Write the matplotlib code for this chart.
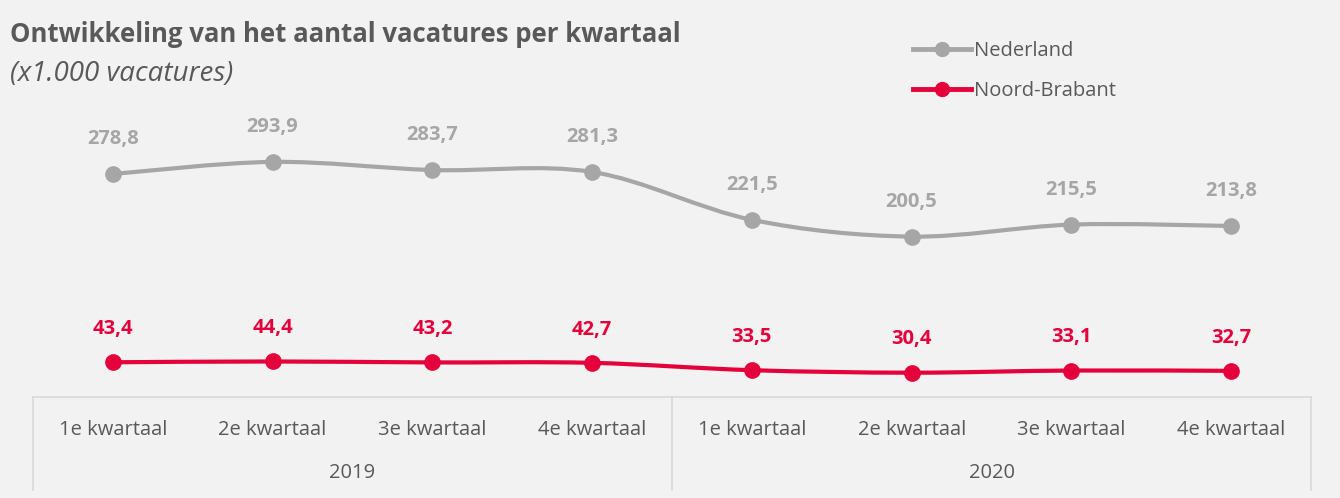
import matplotlib
matplotlib.use('Agg')
import matplotlib.pyplot as plt
from matplotlib.path import Path
from matplotlib.patches import PathPatch
from matplotlib.lines import Line2D
import matplotlib.transforms as mtransforms

plt.rcParams['font.family'] = ['Open Sans', 'DejaVu Sans']

quarters = ['1e kwartaal', '2e kwartaal', '3e kwartaal', '4e kwartaal',
            '1e kwartaal', '2e kwartaal', '3e kwartaal', '4e kwartaal']
years = ['2019', '2020']
nederland = [278.8, 293.9, 283.7, 281.3, 221.5, 200.5, 215.5, 213.8]
noord_brabant = [43.4, 44.4, 43.2, 42.7, 33.5, 30.4, 33.1, 32.7]

GREY = '#a6a6a6'
RED = '#e4003a'
TEXT = '#595959'
BG = '#f2f2f2'
FRAME = '#d9d9d9'


def smooth_path(xs, ys):
    # bezier segments like excel's smoothed line
    pts = list(zip(xs, ys))
    n = len(pts)
    verts = [pts[0]]
    codes = [Path.MOVETO]
    for i in range(n - 1):
        p0 = pts[i - 1] if i > 0 else pts[i]
        p1 = pts[i]
        p2 = pts[i + 1]
        p3 = pts[i + 2] if i + 2 < n else pts[i + 1]
        c1 = (p1[0] + (p2[0] - p0[0]) / 6, p1[1] + (p2[1] - p0[1]) / 6)
        c2 = (p2[0] - (p3[0] - p1[0]) / 6, p2[1] - (p3[1] - p1[1]) / 6)
        verts += [c1, c2, p2]
        codes += [Path.CURVE4] * 3
    return Path(verts, codes)


W, H = 1340, 498
fig = plt.figure(figsize=(W / 100, H / 100), dpi=100, facecolor=BG)
ax = fig.add_axes([33 / W, 1 - 397 / H, (1311 - 33) / W, (397 - 77) / H])
ax.set_facecolor(BG)
ax.set_xlim(-0.5, len(quarters) - 0.5)
ax.set_ylim(0, 400)
for s in ['top', 'left', 'right']:
    ax.spines[s].set_visible(False)
ax.spines['bottom'].set_color(FRAME)
ax.spines['bottom'].set_linewidth(1.2)
ax.set_xticks([])
ax.set_yticks([])

x = list(range(len(quarters)))
for vals, col, off in [(nederland, GREY, 25), (noord_brabant, RED, 24)]:
    ax.add_patch(PathPatch(smooth_path(x, vals), fill=False, edgecolor=col,
                           lw=3, capstyle='round', zorder=2))
    ax.plot(x, vals, 'o', color=col, markersize=11, zorder=3)
    for xi, v in zip(x, vals):
        ax.annotate(f'{v:.1f}'.replace('.', ','), (xi, v), xytext=(0, off),
                    textcoords='offset points', ha='center', va='center',
                    fontsize=14.5, fontweight='bold', color=col)

# category box below the axis
trans = mtransforms.blended_transform_factory(ax.transData, ax.transAxes)
for xv in [-0.5, 3.5, 7.5]:
    ax.plot([xv, xv], [0, -93 / 320], color=FRAME, lw=1.2, transform=trans,
            clip_on=False)
for xi, q in zip(x, quarters):
    ax.text(xi, -33 / 320, q, transform=trans, ha='center', va='center',
            fontsize=14.5, color=TEXT)
for i, yr in enumerate(years):
    ax.text(1.5 + 4 * i, -76 / 320, yr, transform=trans, ha='center',
            va='center', fontsize=14.5, color=TEXT)

fig.text(10 / W, 1 - 35 / H, 'Ontwikkeling van het aantal vacatures per kwartaal',
         fontsize=18.5, fontweight='bold', color=TEXT, va='center', ha='left')
fig.text(10 / W, 1 - 74 / H, '(x1.000 vacatures)', fontsize=20,
         fontstyle='italic', color=TEXT, va='center', ha='left')

handles = [Line2D([], [], color=GREY, lw=3.5, marker='o', markersize=10),
           Line2D([], [], color=RED, lw=3.5, marker='o', markersize=10)]
fig.legend(handles, ['Nederland', 'Noord-Brabant'], loc='upper left',
           bbox_to_anchor=(905 / W, 1 - 33 / H), frameon=False, fontsize=14.5,
           labelcolor=TEXT, handlelength=2.9, handletextpad=0.15,
           labelspacing=1.0, borderaxespad=0)

fig.savefig('out.png', dpi=100, facecolor=BG)
